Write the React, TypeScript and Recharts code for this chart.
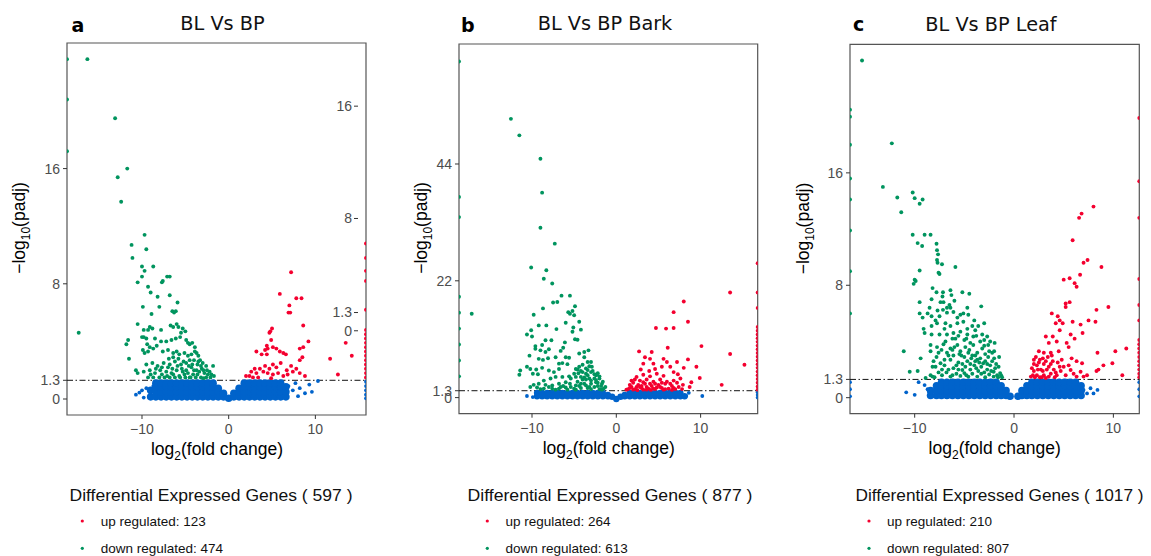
import React from "react";
import { ReferenceArea, ReferenceLine, Scatter, ScatterChart, XAxis, YAxis } from "recharts";

type Pt = [number, number];

// shared labels / thresholds
const xTicks = [-10, 0, 10];
const padjCut = 1.3;
const panelLetters = ["a", "b", "c"];
const titles = ["BL Vs BP", "BL Vs BP Bark", "BL Vs BP Leaf"];
const degTotals = [597, 877, 1017];
const upCounts = [123, 264, 210];
const downCounts = [474, 613, 807];

const yTicksA = [0, 1.3, 8, 16];
const ghostTicksA = [0, 1.3, 8, 16];
const yTicksB = [0, 1.3, 22, 44];
const yTicksC = [0, 1.3, 8, 16];

// ---------- panel a : BL Vs BP ----------
const downA: Pt[] = [
  [-16.3, 23.6], [-13.1, 19.5], [-11.7, 16.0], [-12.8, 15.4], [-12.4, 13.7],
  [-18.65, 23.6], [-18.65, 20.8], [-18.65, 17.2], [-17.3, 4.6],
  [-9.7, 11.4], [-11.2, 10.7], [-9.5, 10.4], [-11.1, 9.8], [-10.0, 9.2], [-8.7, 9.2], [-9.7, 8.9], [-10.0, 8.5],
  [-10.5, 8.1], [-7.6, 8.2], [-7.7, 8.1], [-7.1, 8.5], [-6.8, 8.5], [-9.3, 7.8], [-9.0, 7.4], [-8.2, 7.1],
  [-6.8, 7.2], [-5.9, 6.7], [-9.9, 6.4], [-8.0, 6.4], [-8.9, 5.9], [-6.5, 6.1], [-6.3, 6.0], [-6.1, 6.1],
  [-10.5, 5.2], [-6.7, 5.1], [-6.4, 5.0], [-6.0, 5.2], [-5.8, 5.0], [-9.1, 5.0], [-8.8, 4.9], [-9.3, 4.8],
  [-9.8, 4.8], [-7.8, 4.8], [-10.0, 4.3], [-9.5, 4.2], [-9.8, 4.3], [-8.5, 4.2], [-5.3, 4.9], [-5.5, 4.6],
  [-5.0, 4.7], [-11.6, 4.1], [-11.8, 3.8], [-7.8, 4.0], [-7.2, 4.0], [-6.6, 4.1], [-6.1, 4.2], [-5.6, 4.3],
  [-4.9, 4.1], [-4.7, 3.9], [-4.5, 3.8], [-4.2, 3.9], [-3.9, 3.6], [-9.4, 3.8], [-9.1, 3.6], [-8.7, 3.5],
  [-8.3, 3.7], [-9.9, 3.4], [-9.7, 3.2], [-9.3, 3.3], [-11.5, 2.8], [-7.6, 3.3], [-7.0, 3.4], [-6.4, 3.2],
  [-6.0, 3.3], [-5.7, 3.1], [-5.1, 3.2], [-4.7, 3.0], [-4.3, 3.1], [-3.9, 3.3], [-3.5, 3.0], [-3.7, 3.2],
  [-3.3, 2.7], [-3.0, 2.5], [-2.6, 2.3], [-1.8, 2.3], [-10.7, 2.0], [-10.5, 1.8],
  [-9.5, 2.4], [-8.8, 2.5], [-8.2, 2.3], [-7.5, 2.5], [-6.8, 2.4], [-6.2, 2.6], [-5.5, 2.4], [-4.9, 2.5],
  [-4.2, 2.4], [-3.6, 2.4], [-9.8, 1.9], [-9.1, 2.0], [-8.5, 1.8], [-7.9, 2.0], [-7.2, 1.9], [-6.6, 1.8],
  [-6.0, 2.0], [-5.3, 1.9], [-4.7, 1.8], [-4.0, 2.0], [-3.4, 1.9], [-2.8, 1.8], [-2.2, 1.9],
  [-9.3, 1.5], [-8.7, 1.5], [-8.0, 1.5], [-7.4, 1.5], [-6.8, 1.5], [-6.2, 1.5], [-5.6, 1.5], [-5.0, 1.5],
  [-4.4, 1.5], [-3.8, 1.5], [-3.2, 1.5], [-2.6, 1.5], [-2.1, 1.5], [-1.7, 1.6],
  [-6.9, 2.8], [-5.8, 2.8], [-4.5, 2.7], [-3.1, 2.1], [-2.4, 1.7], [-5.1, 1.7], [-6.4, 1.7], [-7.7, 1.7],
  [-4.3, 2.2], [-3.6, 1.7], [-2.9, 1.45], [-5.9, 2.3], [-7.0, 2.2],
  [-9.0, 1.7], [-8.4, 2.1], [-7.7, 2.2], [-7.1, 1.6], [-6.5, 2.1], [-5.7, 1.6], [-5.4, 2.1], [-4.9, 2.0],
  [-4.5, 1.5], [-4.1, 1.7], [-3.7, 2.0], [-3.2, 2.3], [-2.9, 2.0], [-2.5, 2.0], [-2.0, 1.7], [-3.5, 2.6],
  [-4.0, 2.7], [-4.6, 2.3], [-5.2, 2.6], [-6.4, 2.9],
];
const upA: Pt[] = [
  [7.2, 8.8], [5.9, 7.3], [7.8, 7.0], [8.4, 7.0], [7.0, 6.5], [6.9, 6.0], [7.1, 6.0], [8.6, 5.1], [5.0, 4.9],
  [4.8, 4.7], [4.7, 4.6], [4.9, 4.1], [9.2, 4.0], [4.4, 3.7], [5.1, 3.6], [5.5, 3.5], [4.2, 3.4], [4.5, 3.5],
  [3.2, 3.3], [3.8, 3.1], [4.4, 3.1], [5.9, 3.3], [6.6, 3.1], [6.3, 3.2], [8.2, 3.5], [8.6, 3.6], [8.5, 2.9],
  [8.2, 2.7], [11.7, 2.8], [13.5, 3.9], [14.2, 3.0], [12.6, 1.7],
  [5.1, 2.4], [4.7, 2.1], [4.2, 2.3], [3.6, 2.1], [3.0, 2.1], [2.6, 1.9], [2.0, 1.6], [2.4, 1.6], [3.2, 1.8],
  [4.0, 1.9], [4.5, 1.8], [5.1, 1.7], [5.7, 1.8], [6.3, 1.6], [6.8, 1.7], [7.4, 1.9], [7.8, 2.1], [7.2, 2.3],
  [6.7, 2.0], [8.2, 1.8], [8.8, 1.6], [3.4, 1.5], [4.9, 1.45], [5.5, 2.2], [2.8, 1.5], [6.0, 2.5],
  [15.84, 10.8], [15.84, 9.8], [15.84, 8.9], [15.84, 8.2], [15.84, 6.2], [15.84, 4.8], [15.84, 4.5],
  [15.84, 4.2], [15.84, 3.9], [15.84, 3.6], [15.84, 3.3], [15.84, 3.0], [15.84, 2.7], [15.84, 2.4],
  [15.84, 2.1], [15.84, 1.8], [15.84, 1.5],
];
const nsA: Pt[] = [
  [-10.7, 0.3], [-10.0, 0.6], [-9.5, 0.75], [-9.1, 0.5], [-8.7, 0.9], [-9.8, 0.1], [-10.3, 0.45],
  [6.9, 0.9], [7.4, 0.6], [8.2, 0.75], [8.8, 0.4], [9.3, 1.0], [10.3, 1.25], [8.0, 0.2], [9.6, 0.5], [7.7, 1.1],
  [15.84, 1.2], [15.84, 0.9], [15.84, 0.6], [15.84, 0.3], [15.84, 0.05],
];
const nsCoreA: Pt[] = [
  [-9.0, 0.15], [-9.0, 0.6],
  [-8.4, 0.15], [-8.4, 0.5], [-8.4, 0.85], [-8.4, 1.1], [-7.8, 0.15], [-7.8, 0.5], [-7.8, 0.85], [-7.8, 1.1],
  [-7.2, 0.15], [-7.2, 0.5], [-7.2, 0.85], [-7.2, 1.1], [-6.6, 0.15], [-6.6, 0.5], [-6.6, 0.85], [-6.6, 1.1],
  [-6.0, 0.15], [-6.0, 0.5], [-6.0, 0.85], [-6.0, 1.1], [-5.4, 0.15], [-5.4, 0.5], [-5.4, 0.85], [-5.4, 1.1],
  [-4.8, 0.15], [-4.8, 0.5], [-4.8, 0.85], [-4.8, 1.1], [-4.2, 0.15], [-4.2, 0.5], [-4.2, 0.85], [-4.2, 1.1],
  [-3.6, 0.15], [-3.6, 0.5], [-3.6, 0.85], [-3.6, 1.1], [-3.0, 0.15], [-3.0, 0.5], [-3.0, 0.85], [-3.0, 1.1],
  [-2.4, 0.15], [-2.4, 0.5], [-2.4, 0.85], [-2.4, 1.1], [-1.8, 0.15], [-1.8, 0.5], [-1.8, 0.85], [-1.8, 1.1],
  [-1.2, 0.15], [-1.2, 0.5], [-1.2, 0.75], [-0.6, 0.15], [-0.6, 0.4], [0.0, 0.05], [0.6, 0.15], [0.6, 0.4],
  [1.2, 0.15], [1.2, 0.5], [1.2, 0.75],
  [1.8, 0.15], [1.8, 0.5], [1.8, 0.85], [1.8, 1.1], [2.4, 0.15], [2.4, 0.5], [2.4, 0.85], [2.4, 1.1],
  [3.0, 0.15], [3.0, 0.5], [3.0, 0.85], [3.0, 1.1], [3.6, 0.15], [3.6, 0.5], [3.6, 0.85], [3.6, 1.1],
  [4.2, 0.15], [4.2, 0.5], [4.2, 0.85], [4.2, 1.1], [4.8, 0.15], [4.8, 0.5], [4.8, 0.85], [4.8, 1.1],
  [5.4, 0.15], [5.4, 0.5], [5.4, 0.85], [5.4, 1.1], [6.0, 0.15], [6.0, 0.5], [6.0, 0.85], [6.0, 1.1],
  [6.6, 0.15], [6.6, 0.5], [6.6, 0.85],
];

// ---------- panel b : BL Vs BP Bark ----------
const downB: Pt[] = [
  [-12.5, 52.5], [-11.5, 49.4], [-9.0, 45.0], [-8.8, 38.6], [-9.0, 32.0],
  [-18.66, 63.3], [-18.66, 37.8], [-18.66, 34.0], [-18.66, 19.0], [-18.66, 16.0], [-18.66, 13.0],
  [-18.66, 10.0], [-18.66, 7.0], [-18.66, 4.0], [-17.15, 15.8],
  [-7.3, 29.0], [-10.1, 24.5], [-8.3, 24.0], [-8.6, 22.4], [-7.6, 21.5], [-6.5, 19.2], [-5.5, 19.2],
  [-7.5, 17.9], [-7.0, 18.0], [-4.9, 17.2], [-5.2, 16.3], [-5.7, 16.1], [-5.5, 15.8], [-8.7, 16.8],
  [-9.8, 15.6], [-5.0, 15.5], [-6.0, 14.1], [-4.4, 14.3], [-9.2, 13.6], [-8.3, 13.6], [-7.1, 12.9],
  [-5.1, 13.2], [-4.2, 12.8], [-10.1, 12.7], [-10.6, 11.9], [-10.0, 11.5], [-5.2, 12.4], [-4.9, 11.0],
  [-4.6, 10.9], [-8.4, 10.8], [-7.7, 10.8], [-8.8, 9.9], [-9.6, 9.7], [-9.6, 9.2], [-6.1, 10.4], [-6.3, 9.4],
  [-6.6, 8.8], [-7.2, 7.6], [-9.0, 8.9], [-8.4, 8.6], [-8.0, 9.1], [-10.3, 7.9], [-9.2, 7.3], [-8.7, 7.1],
  [-8.1, 7.4], [-6.0, 7.6], [-5.6, 7.5], [-6.8, 6.4], [-6.4, 6.5], [-5.8, 6.3], [-4.4, 8.3], [-3.8, 8.6],
  [-3.3, 8.9], [-3.8, 7.6], [-3.4, 6.7], [-3.0, 6.7], [-2.9, 5.8], [-11.4, 5.1], [-11.5, 4.3], [-10.6, 5.8],
  [-10.2, 5.4], [-9.5, 5.3], [-8.8, 5.6], [-9.9, 4.5], [-9.3, 4.4],
  [-8.0, 5.1], [-7.4, 4.8], [-6.8, 5.4], [-6.4, 3.9], [-7.2, 3.9], [-7.8, 3.6], [-8.6, 3.2], [-9.2, 2.6],
  [-8.4, 2.4], [-7.6, 2.3], [-6.8, 2.6], [-6.0, 2.9], [-5.4, 3.6], [-5.0, 4.5], [-4.6, 5.3], [-4.8, 3.9],
  [-4.2, 3.9], [-3.6, 4.5], [-3.0, 4.8], [-2.4, 4.2], [-2.0, 3.6], [-1.7, 2.6], [-1.3, 2.0], [-2.4, 2.9],
  [-3.0, 2.6], [-3.6, 2.3], [-4.2, 2.6], [-4.8, 2.3], [-5.4, 2.0], [-6.0, 1.9], [-6.8, 1.7], [-7.6, 1.7],
  [-8.6, 1.7], [-9.4, 1.9], [-10.2, 2.0],
  [-4.4, 5.8], [-4.0, 6.2], [-3.6, 5.5], [-3.2, 5.9], [-2.8, 5.0], [-3.4, 4.2], [-4.0, 3.4], [-4.6, 3.0],
  [-3.8, 2.6], [-3.0, 3.2], [-2.6, 3.6], [-2.2, 2.8], [-1.8, 2.2], [-2.6, 2.0], [-3.4, 1.8], [-4.2, 1.8],
  [-5.0, 1.7], [-1.5, 1.7], [-2.0, 1.6], [-3.0, 1.6], [-4.5, 4.6], [-5.5, 2.6], [-5.6, 4.0], [-6.3, 2.2],
  [-2.2, 4.6], [-3.6, 3.4], [-4.2, 5.0], [-4.8, 5.4],
  [-4.0, 4.8], [-3.4, 5.2], [-2.6, 4.4], [-2.0, 4.0], [-1.6, 3.0], [-3.8, 3.8], [-3.2, 3.6], [-2.4, 3.3],
  [-4.4, 2.2], [-3.2, 2.0], [-2.2, 2.2], [-1.7, 1.5], [-4.8, 1.5], [-5.8, 1.5], [-6.6, 2.0], [-7.2, 1.5],
  [-8.0, 2.0], [-9.0, 1.6], [-9.8, 2.4],
];
const upB: Pt[] = [
  [13.5, 19.8], [8.0, 18.1], [6.8, 16.1], [8.5, 14.3], [4.7, 13.1], [5.9, 13.0], [6.8, 13.1], [10.1, 9.7],
  [13.5, 8.2], [15.2, 6.2], [12.5, 2.4], [9.9, 3.7], [8.9, 2.9], [8.7, 2.0], [9.5, 5.8], [8.0, 5.6], [8.5, 7.2],
  [2.7, 8.7], [4.2, 8.6], [6.1, 9.4], [3.4, 7.6], [4.0, 7.3], [3.2, 6.4], [4.4, 6.4], [5.6, 7.3], [6.0, 6.7],
  [5.4, 5.8], [6.4, 5.8], [7.2, 6.7], [6.8, 4.8],
  [1.4, 1.6], [1.8, 2.0], [2.2, 1.6], [2.6, 2.4], [3.0, 1.8], [3.4, 2.6], [3.8, 1.7], [4.2, 2.2], [4.6, 1.6],
  [5.0, 2.4], [5.4, 1.8], [5.8, 2.6], [6.2, 1.7], [6.6, 2.2], [7.0, 1.6], [7.4, 2.0], [2.0, 2.8], [2.8, 3.2],
  [3.6, 3.4], [4.4, 3.0], [5.2, 3.4], [6.0, 3.0], [6.8, 3.2], [2.4, 3.9], [3.2, 4.3], [4.0, 4.0], [4.8, 4.5],
  [5.6, 4.1], [3.0, 2.2], [2.0, 1.5], [4.8, 1.9], [3.6, 1.5], [1.6, 2.4], [7.6, 3.6], [7.9, 2.4], [1.2, 1.5],
  [2.5, 1.4], [4.1, 1.45], [5.6, 1.5], [6.6, 1.45], [3.9, 5.0], [4.6, 5.4], [2.9, 5.3], [7.3, 4.4],
  [1.6, 1.8], [2.4, 2.0], [3.2, 1.5], [3.2, 2.9], [4.0, 2.6], [4.4, 1.7], [5.2, 2.0], [5.8, 1.6], [6.4, 2.6],
  [7.2, 2.8], [2.2, 3.4], [1.8, 3.2], [2.8, 2.0], [3.6, 2.0], [4.6, 2.6], [5.4, 2.8], [6.8, 1.8], [7.8, 1.6],
  [16.77, 25.3], [16.77, 19.8], [16.77, 16.9], [16.77, 13.3], [16.77, 12.6], [16.77, 11.9], [16.77, 11.2],
  [16.77, 10.5], [16.77, 9.8], [16.77, 9.1], [16.77, 8.4], [16.77, 7.7], [16.77, 7.0], [16.77, 6.3],
  [16.77, 5.6], [16.77, 4.9], [16.77, 4.2], [16.77, 3.5], [16.77, 2.8], [16.77, 2.1], [16.77, 1.5],
];
const nsB: Pt[] = [
  [-10.6, 0.3], [-9.5, 0.9], [-9.2, 0.3], [-9.9, 0.1], [-8.5, 0.2], [8.6, 0.9], [10.2, 0.3], [8.3, 0.3],
  [16.77, 1.0], [16.77, 0.5], [16.77, 0.0],
];
const nsCoreB: Pt[] = [
  [-9.4, 0.25], [-9.4, 0.9], [-8.8, 0.25], [-8.8, 0.9], [-8.2, 0.25], [-8.2, 0.9], [-7.6, 0.25], [-7.6, 0.9],
  [-7.0, 0.25], [-7.0, 0.9], [-6.4, 0.25], [-6.4, 0.9], [-5.8, 0.25], [-5.8, 0.9], [-5.2, 0.25], [-5.2, 0.9],
  [-4.6, 0.25], [-4.6, 0.9], [-4.0, 0.25], [-4.0, 0.9], [-3.4, 0.25], [-3.4, 0.9], [-2.8, 0.25], [-2.8, 0.9],
  [-2.2, 0.25], [-2.2, 0.9], [-1.6, 0.25], [-1.6, 0.9], [-1.0, 0.25], [-1.0, 0.5], [-0.5, 0.15], [0.0, -0.25],
  [0.5, 0.15], [1.0, 0.25], [1.0, 0.5],
  [1.6, 0.25], [1.6, 0.9], [2.2, 0.25], [2.2, 0.9], [2.8, 0.25], [2.8, 0.9], [3.4, 0.25], [3.4, 0.9],
  [4.0, 0.25], [4.0, 0.9], [4.6, 0.25], [4.6, 0.9], [5.2, 0.25], [5.2, 0.9], [5.8, 0.25], [5.8, 0.9],
  [6.4, 0.25], [6.4, 0.9], [7.0, 0.25], [7.0, 0.9], [7.6, 0.25], [7.6, 0.9], [8.1, 0.25],
];

// ---------- panel c : BL Vs BP Leaf ----------
const downC: Pt[] = [
  [-15.3, 24.0], [-12.3, 18.1], [-13.2, 15.0], [-11.75, 14.25], [-11.35, 13.2], [-10.2, 14.6], [-10.0, 14.2],
  [-9.5, 13.8], [-9.2, 14.1],
  [-16.51, 20.5], [-16.51, 20.0], [-16.51, 18.0], [-16.51, 15.6], [-16.51, 14.1], [-16.51, 11.9],
  [-16.51, 9.0], [-16.51, 6.0],
  [-10.2, 11.6], [-9.0, 11.6], [-8.4, 11.6], [-9.7, 11.0], [-9.25, 10.8], [-7.8, 10.95], [-7.75, 10.5],
  [-7.65, 10.2], [-7.75, 9.8], [-7.7, 9.6], [-7.25, 9.5], [-5.9, 9.3], [-9.5, 9.05], [-7.6, 8.9], [-7.5, 8.8],
  [-10.0, 8.4], [-9.9, 8.3], [-10.1, 8.1], [-8.2, 7.8], [-7.8, 7.5], [-7.15, 7.5], [-6.4, 7.65], [-6.3, 7.3],
  [-5.2, 7.5], [-4.5, 7.4], [-8.3, 7.0], [-7.4, 6.8], [-7.1, 6.8], [-6.5, 6.6], [-6.4, 6.4], [-6.75, 6.4],
  [-9.5, 6.8], [-8.5, 6.4], [-7.7, 6.2], [-7.15, 6.25], [-4.7, 6.4], [-3.3, 6.5], [-9.5, 6.0], [-9.2, 5.7],
  [-8.3, 5.8], [-7.5, 5.8], [-6.75, 6.05], [-6.1, 6.1], [-5.7, 5.7], [-5.1, 6.0], [-4.6, 5.9],
  [-9.1, 4.9], [-8.3, 5.1], [-7.75, 5.3], [-6.9, 5.3], [-6.4, 5.1], [-5.7, 5.3], [-5.1, 5.4], [-4.7, 4.9],
  [-4.2, 5.1], [-3.9, 4.8], [-3.6, 5.1],
  [-9.0, 4.6], [-8.3, 4.5], [-7.5, 4.5], [-6.75, 4.5], [-6.1, 4.6], [-5.4, 4.7], [-4.7, 4.5], [-4.1, 4.35],
  [-3.2, 4.5], [-2.7, 4.35], [-1.95, 3.9], [-11.1, 3.3],
  [-8.4, 3.75], [-7.75, 3.6], [-7.1, 3.8], [-6.4, 3.5], [-5.7, 3.75], [-4.9, 3.6], [-4.1, 3.75], [-3.2, 3.5],
  [-2.6, 3.75], [-8.4, 3.3], [-7.6, 3.2], [-6.75, 3.2], [-6.1, 3.0], [-5.4, 3.3], [-4.6, 3.2], [-3.7, 3.2],
  [-2.9, 3.1], [-2.2, 3.2], [-9.4, 2.8], [-8.1, 2.6], [-7.4, 2.45], [-6.4, 2.7], [-5.6, 2.5], [-4.7, 2.6],
  [-3.9, 2.6], [-3.1, 2.45], [-2.2, 2.6], [-1.55, 2.2], [-7.9, 2.2], [-7.25, 2.0], [-6.1, 2.1], [-5.2, 1.97],
  [-4.4, 2.0], [-3.6, 1.9], [-2.7, 2.0], [-2.05, 1.85], [-1.4, 1.75], [-8.4, 1.6], [-7.25, 1.6], [-6.4, 1.5],
  [-5.4, 1.55], [-4.6, 1.5], [-3.7, 1.5], [-2.9, 1.45], [-2.05, 1.5], [-1.2, 1.45], [-10.5, 1.85],
  [-9.7, 1.9], [-8.9, 1.4], [-8.2, 1.5],
  [-6.9, 4.0], [-5.9, 4.2], [-5.0, 4.1], [-4.4, 3.9], [-3.4, 4.0], [-6.2, 3.4], [-5.0, 2.9], [-4.2, 3.0],
  [-3.4, 2.8], [-2.6, 2.9], [-5.8, 2.3], [-4.9, 2.2], [-4.0, 2.3], [-3.3, 2.2], [-2.4, 2.3], [-1.8, 2.4],
  [-6.8, 1.8], [-5.8, 1.7], [-5.0, 1.75], [-4.2, 1.7], [-3.3, 1.7], [-2.5, 1.65], [-1.7, 1.6], [-7.0, 4.9],
  [-6.2, 4.2], [-5.4, 5.9], [-6.0, 6.9], [-7.9, 5.5], [-8.7, 6.0], [-7.2, 7.2], [-4.0, 5.5], [-3.0, 5.3],
  [-2.4, 4.0], [-2.0, 3.3], [-1.5, 2.9],
  [-8.0, 1.45], [-7.6, 1.8], [-7.0, 2.3], [-6.6, 2.0], [-6.2, 1.6], [-5.6, 2.0], [-5.2, 2.4], [-4.8, 1.6],
  [-4.4, 2.4], [-3.8, 2.1], [-3.5, 2.5], [-3.0, 1.8], [-2.7, 2.4], [-2.3, 1.9], [-1.9, 2.1], [-1.6, 1.45],
  [-1.3, 1.6], [-6.6, 3.0], [-6.0, 3.6], [-5.3, 3.0], [-4.5, 3.4], [-3.9, 3.0], [-3.0, 3.7], [-2.5, 3.3],
  [-5.6, 4.4], [-4.8, 4.2], [-3.8, 4.4], [-3.0, 4.1], [-7.3, 3.4], [-7.8, 2.9], [-8.2, 2.2], [-7.0, 2.7],
  [-4.3, 2.8], [-3.7, 2.7], [-2.9, 2.6], [-2.0, 2.8], [-5.5, 3.1],
];
const upC: Pt[] = [
  [8.0, 13.6], [6.8, 13.1], [6.55, 12.8], [5.9, 11.2], [7.4, 9.8], [7.0, 9.6], [8.8, 9.3], [5.0, 8.4],
  [5.6, 8.5], [6.65, 8.75], [6.1, 8.15], [6.3, 7.9], [5.6, 6.8], [5.2, 6.7], [5.2, 6.45], [8.3, 6.25],
  [9.5, 6.45], [3.8, 6.0], [4.4, 5.8], [4.6, 5.5], [4.9, 5.3], [4.2, 5.3], [5.9, 5.4], [6.7, 5.2], [7.5, 5.5],
  [8.2, 5.4], [3.2, 4.35], [3.9, 4.35], [4.6, 4.8], [5.7, 4.5], [6.9, 4.6], [6.1, 4.2], [3.5, 3.9], [4.3, 4.0],
  [5.3, 3.9], [5.5, 3.6], [3.0, 3.2], [3.7, 3.2], [4.5, 3.3], [3.8, 3.0], [8.4, 3.2], [10.2, 3.3], [11.3, 3.5],
  [9.0, 2.3], [9.9, 2.45], [8.3, 1.9], [8.5, 2.0], [10.9, 1.6], [5.5, 2.3], [6.3, 2.6], [6.85, 2.45],
  [5.7, 1.97], [6.7, 1.85], [7.35, 1.6], [7.0, 1.5], [6.3, 1.5],
  [1.7, 1.5], [2.0, 1.9], [2.3, 2.3], [2.3, 1.6], [2.6, 2.7], [2.7, 2.0], [3.0, 1.6], [3.0, 2.4], [3.3, 2.0],
  [3.4, 2.9], [3.7, 1.7], [3.7, 2.4], [4.0, 2.0], [4.3, 1.6], [4.4, 2.5], [4.7, 1.9], [5.0, 2.2], [5.2, 1.6],
  [2.5, 3.3], [2.2, 2.9], [1.9, 1.6], [2.8, 1.45], [3.5, 1.5], [4.1, 1.45], [6.0, 1.7], [5.8, 2.8], [2.0, 2.4],
  [2.6, 1.45], [3.2, 1.4], [4.8, 2.7],
  [1.8, 2.1], [2.1, 1.45], [2.4, 2.0], [2.9, 2.8], [3.2, 2.6], [2.9, 1.9], [3.5, 2.2], [3.9, 2.6], [4.2, 1.8],
  [4.6, 2.2], [2.5, 2.5], [2.0, 2.7],
  [12.61, 19.9], [12.61, 15.4], [12.61, 12.8], [12.61, 8.45], [12.61, 6.6], [12.61, 5.5], [12.61, 4.1],
  [12.61, 3.8], [12.61, 3.5], [12.61, 3.2], [12.61, 2.9], [12.61, 2.6], [12.61, 2.3], [12.61, 2.0],
  [12.61, 1.7], [12.61, 1.45],
];
const nsC: Pt[] = [
  [-10.85, 0.38], [-10.0, 0.2], [-8.7, 0.6], [-9.6, 1.1], [-8.2, 0.1], [-9.0, 0.9], [7.7, 0.67], [8.0, 0.3],
  [8.4, 0.55], [7.0, 0.55], [7.35, 0.3], [6.7, 0.8],
  [-16.51, 1.1], [-16.51, 0.6], [-16.51, 0.1], [12.61, 1.1], [12.61, 0.6], [12.61, 0.1],
];
const nsCoreC: Pt[] = [
  [-8.4, 0.15], [-8.4, 0.5], [-7.8, 0.15], [-7.8, 0.5], [-7.8, 0.85],
  [-7.3, 0.15], [-7.3, 0.5], [-7.3, 0.85], [-7.3, 1.1], [-6.75, 0.15], [-6.75, 0.5], [-6.75, 0.85], [-6.75, 1.1],
  [-6.2, 0.15], [-6.2, 0.5], [-6.2, 0.85], [-6.2, 1.1], [-5.65, 0.15], [-5.65, 0.5], [-5.65, 0.85], [-5.65, 1.1],
  [-5.1, 0.15], [-5.1, 0.5], [-5.1, 0.85], [-5.1, 1.1], [-4.55, 0.15], [-4.55, 0.5], [-4.55, 0.85], [-4.55, 1.1],
  [-4.0, 0.15], [-4.0, 0.5], [-4.0, 0.85], [-4.0, 1.1], [-3.45, 0.15], [-3.45, 0.5], [-3.45, 0.85], [-3.45, 1.1],
  [-2.9, 0.15], [-2.9, 0.5], [-2.9, 0.85], [-2.9, 1.1], [-2.35, 0.15], [-2.35, 0.5], [-2.35, 0.85], [-2.35, 1.1],
  [-1.8, 0.15], [-1.8, 0.5], [-1.8, 0.85], [-1.8, 1.1], [-1.3, 0.15], [-1.3, 0.5], [-1.3, 0.85],
  [-0.8, 0.15], [-0.8, 0.5], [-0.4, 0.1], [0.4, 0.1], [0.8, 0.15], [0.8, 0.5], [1.3, 0.15], [1.3, 0.5], [1.3, 0.85],
  [1.8, 0.15], [1.8, 0.5], [1.8, 0.85], [1.8, 1.1], [2.35, 0.15], [2.35, 0.5], [2.35, 0.85], [2.35, 1.1],
  [2.9, 0.15], [2.9, 0.5], [2.9, 0.85], [2.9, 1.1], [3.45, 0.15], [3.45, 0.5], [3.45, 0.85], [3.45, 1.1],
  [4.0, 0.15], [4.0, 0.5], [4.0, 0.85], [4.0, 1.1], [4.55, 0.15], [4.55, 0.5], [4.55, 0.85], [4.55, 1.1],
  [5.1, 0.15], [5.1, 0.5], [5.1, 0.85], [5.1, 1.1], [5.65, 0.15], [5.65, 0.5], [5.65, 0.85], [5.65, 1.1],
  [6.2, 0.15], [6.2, 0.5], [6.2, 0.85], [6.2, 1.1], [6.75, 0.15], [6.75, 0.5], [6.75, 0.85],
];

const RED = "#F4002F";
const GREEN = "#00945E";
const BLUE = "#0063CB";
const TICK_COLOR = "#4d4d4d";
const SANS = "'Liberation Sans', Arial, sans-serif";
const TITLE_FONT = "'DejaVu Sans', Verdana, sans-serif";

const pts = (a: Pt[]) => a.map(([x, y]) => ({ x, y }));
const fmt = (v: number) => (v < 0 ? `\u2212${Math.abs(v)}` : `${v}`);
const dot = (fill: string, r: number) => (p: any) => <circle cx={p.cx} cy={p.cy} r={r} fill={fill} />;

const CHART_H = 470;
const Y_W = 50;

interface PanelProps {
  left: number;
  top: number;
  right: number;
  bottom: number;
  xDomain: [number, number];
  yDomain: [number, number];
  yTicks: number[];
  up: Pt[];
  down: Pt[];
  ns: Pt[];
  nsCore: Pt[];
  coreR: number;
  ghost?: { domain: [number, number]; ticks: number[] };
}

function Volcano({ left, top, right, bottom, xDomain, yDomain, yTicks, up, down, ns, nsCore, coreR, ghost }: PanelProps) {
  const plotW = right - left;
  const w = Y_W + plotW + 5;
  const tickStyle = { fill: TICK_COLOR, fontSize: 14, fontFamily: SANS };
  return (
    <div style={{ position: "absolute", left: left - Y_W, top: 0 }}>
      <ScatterChart width={w} height={CHART_H} margin={{ top, right: 5, bottom: 0, left: 0 }}>
        <XAxis
          type="number"
          dataKey="x"
          domain={xDomain}
          ticks={xTicks}
          interval={0}
          allowDataOverflow
          height={CHART_H - bottom}
          axisLine={false}
          tickLine={{ stroke: "#333" }}
          tickSize={4}
          tickMargin={5}
          tick={tickStyle}
          tickFormatter={fmt}
        />
        <YAxis
          type="number"
          dataKey="y"
          domain={yDomain}
          ticks={yTicks}
          interval={0}
          allowDataOverflow
          width={Y_W}
          axisLine={false}
          tickLine={{ stroke: "#333" }}
          tickSize={4}
          tickMargin={3}
          tick={tickStyle}
        />
        {ghost && (
          <YAxis
            yAxisId="ghost"
            orientation="right"
            mirror
            type="number"
            domain={ghost.domain}
            ticks={ghost.ticks}
            interval={0}
            allowDataOverflow
            axisLine={false}
            tickSize={4}
            tickMargin={2}
            tickLine={{ stroke: "#333", transform: "translate(-8,0)" }}
            tick={(p: any) => (
              <text x={p.x - 8} y={p.y} dy="0.355em" textAnchor="end" fill={TICK_COLOR} fontSize={14} fontFamily={SANS}>
                {p.payload.value}
              </text>
            )}
          />
        )}
        <ReferenceArea
          x1={xDomain[0]}
          x2={xDomain[1]}
          y1={yDomain[0]}
          y2={yDomain[1]}
          fill="none"
          fillOpacity={0}
          stroke="#555"
          strokeWidth={1.2}
          ifOverflow="visible"
        />
        <Scatter data={pts(nsCore)} shape={dot(BLUE, coreR)} isAnimationActive={false} />
        <Scatter data={pts(ns)} shape={dot(BLUE, 1.9)} isAnimationActive={false} />
        <Scatter data={pts(down)} shape={dot(GREEN, 1.95)} isAnimationActive={false} />
        <Scatter data={pts(up)} shape={dot(RED, 1.95)} isAnimationActive={false} />
        <ReferenceLine y={padjCut} stroke="#111" strokeWidth={1} strokeDasharray="6 2.5 1.5 2.5" />
      </ScatterChart>
    </div>
  );
}

// text overlay positions for the three panels
const letterPos = [[71.5, 32], [461, 32.3], [853, 31]];
const titlePos = [[222.5, 29.5], [605, 29.5], [991, 30.5]];
const yLabelPos = [[24.5, 228], [426.5, 228], [808.5, 228.5]];
const xLabelPos = [[217, 454.5], [608.8, 453.5], [994.7, 454]];
const legendX = [[69.5, 82.3, 100.7, 283], [467.5, 487.3, 505.5, 285], [855.5, 869, 887, 288]];

export default function App() {
  return (
    <div style={{ position: "absolute", left: 0, top: 0, width: 1151, height: 556, background: "#fff", overflow: "hidden" }}>
      <Volcano
        left={67}
        top={43}
        right={366}
        bottom={415}
        xDomain={[-18.65, 15.84]}
        yDomain={[-1.11, 24.72]}
        yTicks={yTicksA}
        up={upA}
        down={downA}
        ns={nsA}
        nsCore={nsCoreA}
        coreR={3.8}
        ghost={{ domain: [-6.0, 20.5], ticks: ghostTicksA }}
      />
      <Volcano
        left={459}
        top={44}
        right={757.7}
        bottom={413.7}
        xDomain={[-18.66, 16.77]}
        yDomain={[-3.03, 66.6]}
        yTicks={yTicksB}
        up={upB}
        down={downB}
        ns={nsB}
        nsCore={nsCoreB}
        coreR={3.2}
      />
      <Volcano
        left={849.7}
        top={44.3}
        right={1139}
        bottom={413.7}
        xDomain={[-16.51, 12.61]}
        yDomain={[-1.14, 25.15]}
        yTicks={yTicksC}
        up={upC}
        down={downC}
        ns={nsC}
        nsCore={nsCoreC}
        coreR={3.8}
      />
      <svg width={1151} height={556} style={{ position: "absolute", left: 0, top: 0, pointerEvents: "none" }}>
        {panelLetters.map((l, i) => (
          <text key={l} x={letterPos[i][0]} y={letterPos[i][1]} fontFamily={TITLE_FONT} fontWeight="bold" fontSize={19} fill="#000">
            {l}
          </text>
        ))}
        {titles.map((t, i) => (
          <text key={t} x={titlePos[i][0]} y={titlePos[i][1]} textAnchor="middle" fontFamily={TITLE_FONT} fontSize={19.3} fill="#111">
            {t}
          </text>
        ))}
        {yLabelPos.map(([x, y], i) => (
          <text key={`yl${i}`} x={x} y={y} textAnchor="middle" transform={`rotate(-90 ${x} ${y})`} fontFamily={SANS} fontSize={17.5} fill="#000">
            <tspan>{"\u2212log"}</tspan>
            <tspan fontSize={12} dy={5}>10</tspan>
            <tspan dy={-5}>(padj)</tspan>
          </text>
        ))}
        {xLabelPos.map(([x, y], i) => (
          <text key={`xl${i}`} x={x} y={y} textAnchor="middle" fontFamily={SANS} fontSize={17.5} fill="#000">
            <tspan>log</tspan>
            <tspan fontSize={12} dy={5}>2</tspan>
            <tspan dy={-5}>(fold change)</tspan>
          </text>
        ))}
        {legendX.map(([tx, bx, lx, len], i) => (
          <g key={`lg${i}`}>
            <text x={tx} y={500.7} fontFamily={SANS} fontSize={17.2} fill="#111" textLength={len} lengthAdjust="spacingAndGlyphs">
              {`Differential Expressed Genes ( ${degTotals[i]} )`}
            </text>
            <circle cx={bx} cy={521} r={1.6} fill={RED} />
            <text x={lx} y={525.7} fontFamily={SANS} fontSize={13.5} fill="#111">
              {`up regulated: ${upCounts[i]}`}
            </text>
            <circle cx={bx} cy={548.3} r={1.6} fill={GREEN} />
            <text x={lx} y={552.7} fontFamily={SANS} fontSize={13.5} fill="#111">
              {`down regulated: ${downCounts[i]}`}
            </text>
          </g>
        ))}
      </svg>
    </div>
  );
}
